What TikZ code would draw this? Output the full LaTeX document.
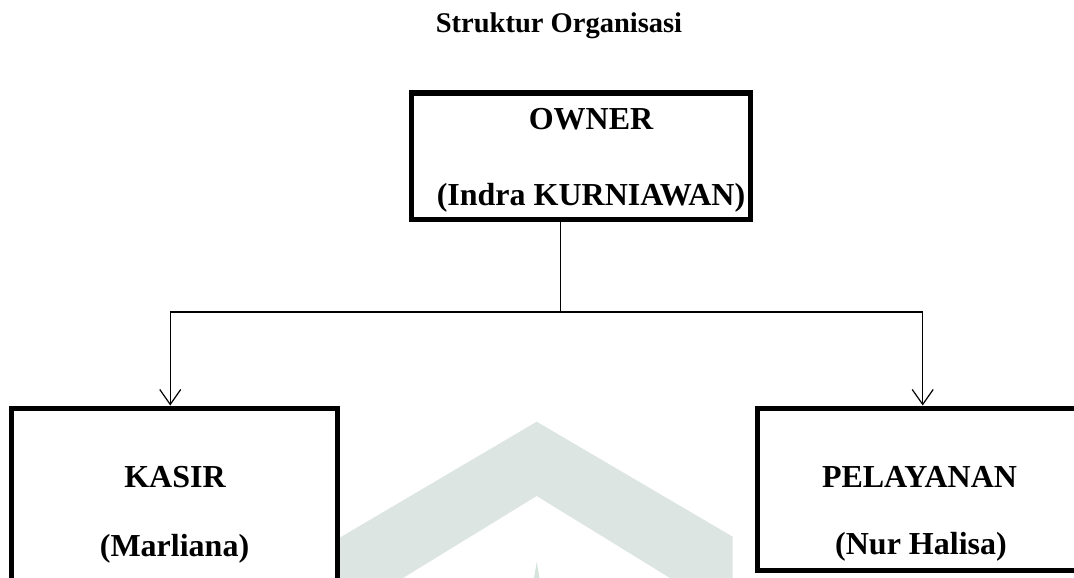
\documentclass[tikz,border=0pt]{standalone}
\usepackage{fontspec}
\setmainfont{Liberation Serif}
\usetikzlibrary{arrows.meta}
\definecolor{watermark}{RGB}{220,229,226}
\definecolor{watermarktip}{RGB}{212,228,219}
\tikzset{
  unitbox/.style={draw, rectangle, line width=5pt, fill=white, inner sep=0pt},
  boxtext/.style={anchor=base, inner sep=0pt, font=\fontsize{32}{38}\selectfont\bfseries},
  link/.style={line width=1.2pt},
  linkarrow/.style={link, -{Straight Barb[length=15pt, width=21pt, line width=1.2pt]}}
}
\begin{document}
\begin{tikzpicture}[x=1pt, y=-1pt]
    \useasboundingbox (0,0) rectangle (1074,578);
    \clip (0,0) rectangle (1074,578);

    % Faint watermark behind the chart.
    \fill[watermark] (340,537.5) -- (536.7,421.7) -- (732.7,536.7) -- (732.7,578)
        -- (670,578) -- (536.7,496) -- (403,578) -- (340,578) -- cycle;
    \fill[watermarktip] (536.7,562) -- (539.5,578) -- (534,578) -- cycle;

    % Title.
    \node[anchor=base, inner sep=0pt, font=\fontsize{28.5}{34}\selectfont\bfseries] (title) at (559,33) {Struktur Organisasi};

    % Boxes; the lower two run past the edge of the page.
    \node[unitbox, minimum width=338.5pt, minimum height=126pt] (owner) at (580.75,156) {};
    \node[unitbox, minimum width=325.5pt, minimum height=192pt] (kasir) at (174.25,504) {};
    \node[unitbox, minimum width=326pt, minimum height=162pt] (pelayanan) at (920,489) {};

    % Texts inside the boxes.
    \node[boxtext] (ownerrole) at (591,129) {OWNER};
    \node[boxtext] (ownername) at (591,205) {(Indra KURNIAWAN)};
    \node[boxtext] (kasirrole) at (175,487) {KASIR};
    \node[boxtext] (kasirname) at (174.5,556) {(Marliana)};
    \node[boxtext] (pelayananrole) at (919.5,487) {PELAYANAN};
    \node[boxtext] (pelayananname) at (921,554) {(Nur Halisa)};

    % Lines from the owner down to the two staff boxes.
    \coordinate (branch) at (560.7,312);
    \draw[link] (owner.south -| branch) -- (branch);
    \draw[linkarrow] (branch) -| ([xshift=-4pt]kasir.north);
    \draw[linkarrow] (branch) -| ([xshift=2.7pt]pelayanan.north);
\end{tikzpicture}
\end{document}
